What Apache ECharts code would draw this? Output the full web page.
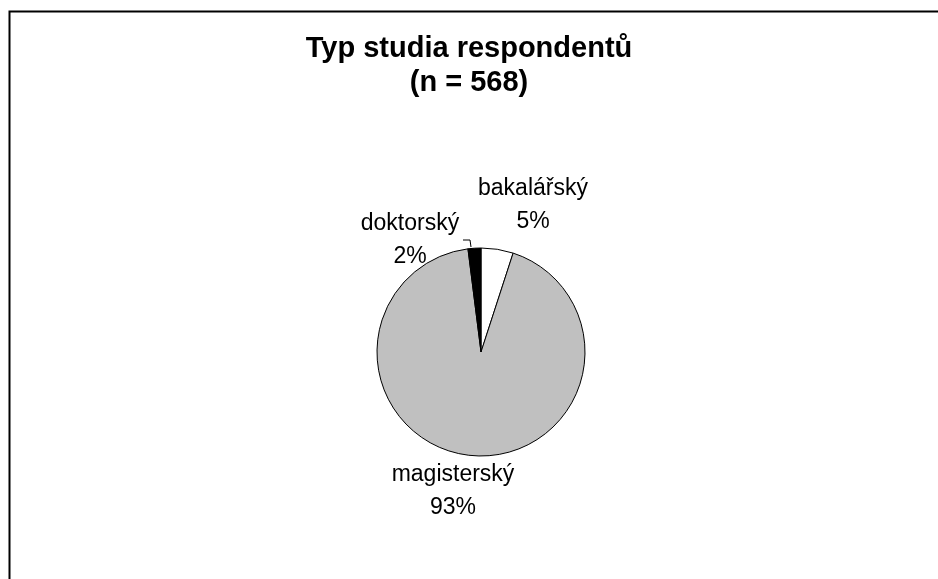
<!DOCTYPE html>
<html><head><meta charset="utf-8">
<script src="https://cdn.jsdelivr.net/npm/echarts@6/dist/echarts.min.js"></script>
<style>html,body{margin:0;padding:0;background:#fff}#c{width:938px;height:579px}</style>
</head><body><div id="c"></div>
<script>
const titleText = 'Typ studia respondentů\n(n = 568)';
const categories = ['bakalářský', 'magisterský', 'doktorský'];
const values = [5, 93, 2];
const colors = ['#FFFFFF', '#C0C0C0', '#000000'];
const labelPos = [[533, 205], [453, 491], [410, 240]];

const chart = echarts.init(document.getElementById('c'), null, {renderer: 'canvas'});
const total = values.reduce((a, b) => a + b, 0);
chart.setOption({
  animation: false,
  backgroundColor: '#fff',
  graphic: [{
    type: 'rect', silent: true,
    shape: {x: 9.5, y: 11.5, width: 1000, height: 1000},
    style: {fill: 'none', stroke: '#000', lineWidth: 2}
  }],
  title: {
    text: titleText, left: 'center', top: 27,
    textStyle: {fontFamily: 'Liberation Sans, Arial', fontWeight: 'bold', fontSize: 29, lineHeight: 34, color: '#000'}
  },
  series: [{
    type: 'pie',
    center: [481, 352], radius: 104,
    startAngle: 90, clockwise: true,
    itemStyle: {borderColor: '#000', borderWidth: 1},
    emphasis: {disabled: true},
    label: {
      show: true, position: 'outside',
      fontFamily: 'Liberation Sans, Arial', fontSize: 23, lineHeight: 33, color: '#000',
      formatter: p => p.name + '\n' + Math.round(p.value / total * 100) + '%'
    },
    labelLine: {show: false, lineStyle: {color: '#000', width: 1}},
    labelLayout: function (p) {
      const pos = labelPos[p.dataIndex];
      const r = {x: pos[0], y: pos[1], align: 'center', verticalAlign: 'middle'};
      if (p.dataIndex === 2) r.labelLinePoints = [[463, 240], [470, 240], [471, 247]];
      return r;
    },
    data: categories.map((c, i) => ({
      name: c, value: values[i],
      itemStyle: {color: colors[i]},
      labelLine: {show: i === 2}
    }))
  }]
});
</script></body></html>
